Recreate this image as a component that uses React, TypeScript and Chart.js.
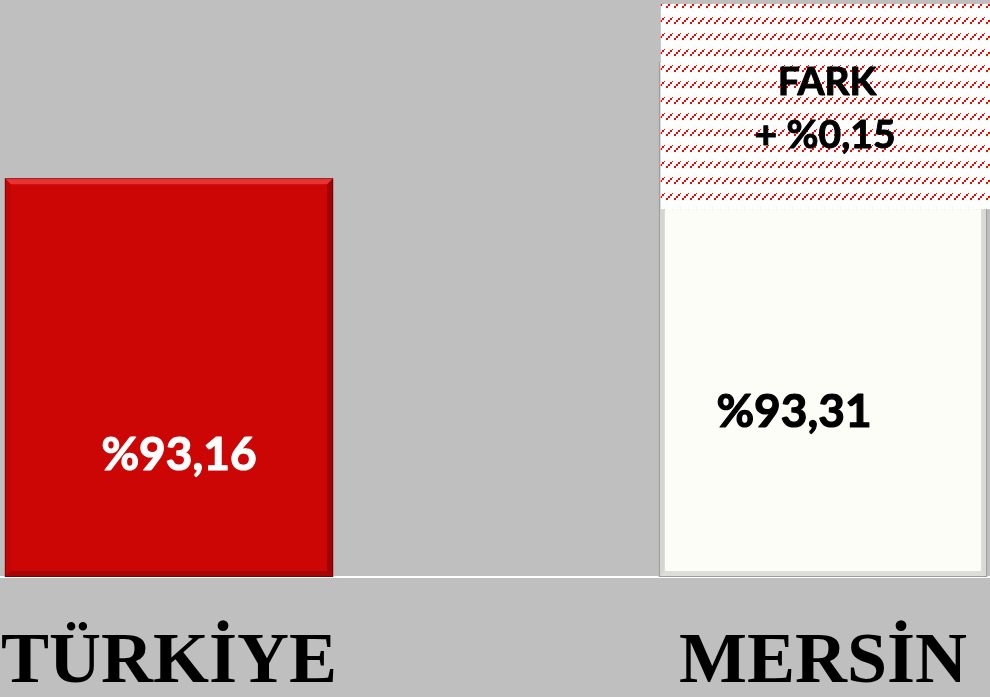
import React, { useEffect, useRef } from 'react';
import { Chart, registerables } from 'chart.js';

Chart.register(...registerables);

const categories = ['TÜRKİYE', 'MERSİN'];
const values = [93.16, 93.31];
const valueLabels = ['%93,16', '%93,31'];
const barColors = ['#cc0605', '#fdfdf8'];
const labelColors = ['#ffffff', '#000000'];
const diffRange = [93.12, 93.385];
const diffLines = ['FARK', '+ %0,15'];
const yMin = 92.645;
const yMax = 93.39;

function makePattern(ctx: CanvasRenderingContext2D): CanvasPattern | string {
  const c = document.createElement('canvas');
  c.width = 8;
  c.height = 16;
  const g = c.getContext('2d');
  if (!g) return '#ffffff';
  g.fillStyle = '#ffffff';
  g.fillRect(0, 0, 8, 16);
  g.fillStyle = '#ff0000';
  g.fillRect(0, 6, 2, 2);
  g.fillRect(2, 4, 2, 2);
  g.fillRect(4, 2, 2, 2);
  g.fillRect(6, 1, 1, 1);
  return ctx.createPattern(c, 'repeat') || '#ffffff';
}

const bevelStyles = [
  { top: 'rgba(255,90,90,0.55)', right: 'rgba(0,0,0,0.22)', bottom: 'rgba(0,0,0,0.18)', left: 'rgba(0,0,0,0.06)', edge: 'rgba(60,0,0,0.45)' },
  { top: 'rgba(255,255,255,0.6)', right: 'rgba(0,0,0,0.14)', bottom: 'rgba(0,0,0,0.12)', left: 'rgba(0,0,0,0.16)', edge: 'rgba(0,0,0,0.3)' },
];

const decorPlugin = {
  id: 'decor',
  afterDatasetDraw(chart: any, args: any) {
    const ctx: CanvasRenderingContext2D = chart.ctx;
    const area = chart.chartArea;
    args.meta.data.forEach((bar: any, i: number) => {
      const p = bar.getProps(['x', 'y', 'base', 'width'], true);
      const l = p.x - p.width / 2;
      const r = p.x + p.width / 2;
      const t = Math.min(p.y, p.base);
      const b = Math.min(Math.max(p.y, p.base), area.bottom);
      const s = 6;
      const st = bevelStyles[i];
      const poly = (pts: number[][], color: string) => {
        ctx.beginPath();
        ctx.moveTo(pts[0][0], pts[0][1]);
        for (let k = 1; k < pts.length; k++) ctx.lineTo(pts[k][0], pts[k][1]);
        ctx.closePath();
        ctx.fillStyle = color;
        ctx.fill();
      };
      ctx.save();
      poly([[l, t], [r, t], [r - s, t + s], [l + s, t + s]], st.top);
      poly([[r, t], [r, b], [r - s, b - s], [r - s, t + s]], st.right);
      poly([[l, b], [r, b], [r - s, b - s], [l + s, b - s]], st.bottom);
      poly([[l, t], [l, b], [l + s, b - s], [l + s, t + s]], st.left);
      ctx.strokeStyle = st.edge;
      ctx.lineWidth = 1;
      ctx.strokeRect(l + 0.5, t + 0.5, p.width - 1, b - t - 1);
      ctx.restore();
    });
  },
  afterDatasetsDraw(chart: any) {
    const ctx: CanvasRenderingContext2D = chart.ctx;
    const meta = chart.getDatasetMeta(0);
    const yScale = chart.scales.y;
    const area = chart.chartArea;
    ctx.save();
    const dx = [10, -29];
    const frac = [0.268, 0.291];
    ctx.lineJoin = 'round';
    meta.data.forEach((bar: any, i: number) => {
      const p = bar.getProps(['x', 'y', 'base', 'width'], true);
      const b = Math.min(p.base, area.bottom);
      ctx.font = 'bold 46px Lato, "Open Sans", sans-serif';
      ctx.textAlign = 'center';
      ctx.textBaseline = 'alphabetic';
      ctx.fillStyle = labelColors[i];
      ctx.strokeStyle = labelColors[i];
      ctx.lineWidth = 1.2;
      const ty = b - frac[i] * (b - p.y);
      ctx.fillText(valueLabels[i], p.x + dx[i], ty);
      ctx.strokeText(valueLabels[i], p.x + dx[i], ty);
    });
    const bar = meta.data[1];
    const p = bar.getProps(['x', 'y', 'base', 'width'], true);
    const left = p.x - p.width / 2 + 2;
    const right = area.right;
    const top = yScale.getPixelForValue(diffRange[1]);
    const bottom = yScale.getPixelForValue(diffRange[0]);
    ctx.fillStyle = makePattern(ctx) as any;
    ctx.fillRect(left, top, right - left, bottom - top);
    ctx.fillStyle = '#000000';
    ctx.strokeStyle = '#000000';
    ctx.lineWidth = 1;
    ctx.font = 'bold 39px Lato, "Open Sans", sans-serif';
    ctx.textAlign = 'center';
    ctx.textBaseline = 'alphabetic';
    ctx.fillText(diffLines[0], p.x + 4, top + 91);
    ctx.strokeText(diffLines[0], p.x + 4, top + 91);
    ctx.fillText(diffLines[1], p.x + 2, top + 144);
    ctx.strokeText(diffLines[1], p.x + 2, top + 144);
    ctx.restore();
  },
};

export default function App() {
  const ref = useRef<HTMLCanvasElement>(null);
  useEffect(() => {
    document.body.style.margin = '0';
    if (!ref.current) return;
    const chart = new Chart(ref.current, {
      type: 'bar',
      data: {
        labels: categories,
        datasets: [
          {
            data: values,
            base: yMin,
            backgroundColor: barColors,
            borderWidth: 0,
            barPercentage: 0.502,
            categoryPercentage: 1,
          },
        ],
      },
      options: {
        animation: false,
        responsive: true,
        maintainAspectRatio: false,
        layout: { padding: 0 },
        plugins: { legend: { display: false }, tooltip: { enabled: false } },
        scales: {
          x: {
            z: 1,
            grid: { display: false, drawTicks: false },
            border: { display: true, color: '#ffffff', width: 2 },
            ticks: {
              color: '#000000',
              padding: 54,
              font: { family: '"Liberation Serif", "Times New Roman", serif', size: 72, weight: 'bold', lineHeight: 0.9 },
            },
            afterFit: (s: any) => {
              s.height = 120;
            },
          },
          y: { display: false, min: yMin, max: yMax },
        },
      },
      plugins: [decorPlugin],
    } as any);
    return () => chart.destroy();
  }, []);
  return (
    <div style={{ position: 'fixed', left: 0, top: 0, width: 990, height: 697, background: '#bfbfbf', overflow: 'hidden' }}>
      <div style={{ position: 'absolute', left: -158, top: 0, width: 1308, height: 697 }}>
        <canvas ref={ref} />
      </div>
    </div>
  );
}
